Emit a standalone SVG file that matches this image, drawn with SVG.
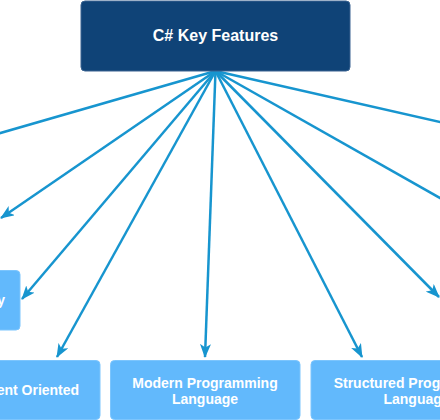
<svg xmlns="http://www.w3.org/2000/svg" width="440" height="420" viewBox="0 0 440 420">
  <style>
    .root rect { fill: #0f4377; stroke: #3a6391; stroke-width: 1; }
    .leaf rect { fill: #62b9fc; stroke: #7cc5fd; stroke-width: 1; }
    text { font-family: "Liberation Sans", Arial, sans-serif; font-weight: bold; fill: #ffffff; text-anchor: middle; }
    .root text { font-size: 16px; }
    .leaf text { font-size: 14px; }
    .edges path { fill: none; stroke: #1795cf; stroke-width: 2.5; }
    .arrow { marker-end: url(#ah); }
  </style>
  <defs>
    <marker id="ah" viewBox="0 0 14 11" refX="13" refY="5.5" markerWidth="14" markerHeight="11" markerUnits="userSpaceOnUse" orient="auto">
      <path d="M0,0 L14,5.5 L0,11 L3.5,5.5 Z" fill="#1795cf"/>
    </marker>
  </defs>
  <rect width="440" height="420" fill="#ffffff"/>

  <g class="edges">
    <path d="M215.5,71 L-40,144.6"/>
    <path class="arrow" d="M215.5,71 L1,218"/>
    <path class="arrow" d="M215.5,71 L22,299"/>
    <path class="arrow" d="M215.5,71 L57,357"/>
    <path class="arrow" d="M215.5,71 L205,357"/>
    <path class="arrow" d="M215.5,71 L362,357"/>
    <path class="arrow" d="M215.5,71 L439,297"/>
    <path d="M215.5,71 L480,220.6"/>
    <path d="M215.5,71 L480,131"/>
  </g>

  <g id="node-root" class="root">
    <rect x="81" y="1" width="269" height="70" rx="4"/>
    <text x="215.5" y="41">C# Key Features</text>
  </g>

  <g id="node-interoperability" class="leaf">
    <rect x="-100" y="270.5" width="120" height="59.5" rx="4"/>
    <text x="5" y="305" style="text-anchor:end">Interoperability</text>
  </g>

  <g id="node-component" class="leaf">
    <rect x="-81" y="360.5" width="181" height="59" rx="4"/>
    <text x="9.5" y="395">Component Oriented</text>
  </g>

  <g id="node-modern" class="leaf">
    <rect x="110.5" y="360.5" width="189.5" height="59" rx="4"/>
    <text x="205" y="387.5">Modern Programming</text>
    <text x="205" y="404">Language</text>
  </g>

  <g id="node-structured" class="leaf">
    <rect x="311" y="360.5" width="211" height="59" rx="4"/>
    <text x="416.5" y="387.5">Structured Programming</text>
    <text x="416.5" y="404">Language</text>
  </g>
</svg>
